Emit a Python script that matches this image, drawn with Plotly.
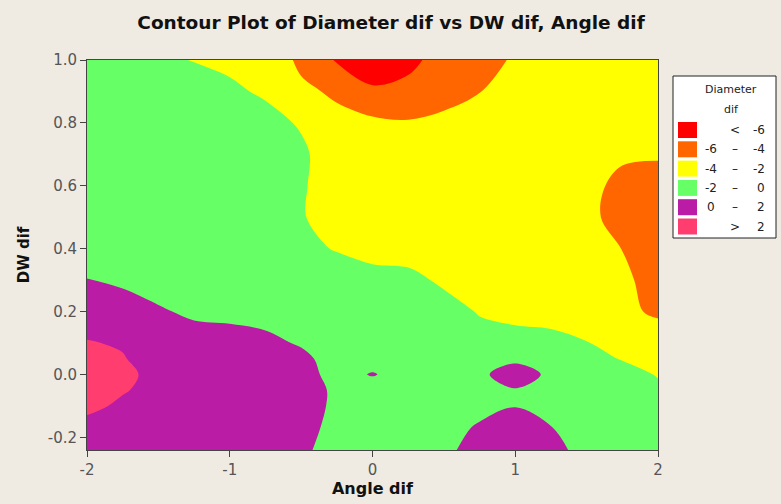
import plotly.graph_objects as go

# ---- data ----
angle_dif = [-2, -1.75, -1.5, -1.25, -1, -0.75, -0.5, -0.25, 0, 0.25, 0.5, 0.75, 1, 1.25, 1.5, 1.75, 2]
dw_dif = [-0.24, -0.17, -0.10, -0.05, 0.0, 0.05, 0.1, 0.2, 0.3, 0.4, 0.5, 0.6, 0.7, 0.8, 0.9, 1.0]

# Diameter dif, one list per Angle dif column (values along DW dif, bottom to top)
diam_cols = [
    [1.3, 1.73, 2.2, 2.45, 2.6, 2.45, 2.08, 1.3, 0.05, -0.9, -1.3, -1.4, -1.45, -1.5, -1.5, -1.5],
    [1.3, 1.6, 1.86, 2.06, 2.2, 2.08, 1.88, 0.82, -0.3, -1.0, -1.35, -1.5, -1.55, -1.6, -1.6, -1.65],
    [1.3, 1.55, 1.7, 1.76, 1.75, 1.41, 1.0, 0.19, -0.7, -1.2, -1.45, -1.6, -1.65, -1.65, -1.6, -1.8],
    [1.3, 1.45, 1.55, 1.55, 1.5, 1.15, 0.75, -0.3, -1.0, -1.4, -1.6, -1.7, -1.7, -1.6, -1.5, -2.04],
    [1.3, 1.4, 1.45, 1.45, 1.3, 1.0, 0.55, -0.35, -0.9, -1.3, -1.5, -1.58, -1.6, -1.62, -1.71, -2.35],
    [1.05, 1.1, 1.1, 1.05, 0.9, 0.6, 0.3, -0.45, -0.9, -1.2, -1.35, -1.4, -1.4, -1.46, -2.23, -3.0],
    [0.3, 0.5, 0.6, 0.6, 0.5, 0.3, -0.12, -0.8, -1.3, -1.7, -1.9, -1.82, -1.684, -2.17, -3.71, -4.3],
    [-0.64, -0.43, -0.26, -0.23, -0.45, -0.53, -0.8, -1.0, -1.33, -2.075, -2.58, -2.82, -3.0, -3.6, -4.225, -6.185],
    [-0.8, -0.75, -0.7, -0.6, 0.08, -0.5, -0.9, -1.2, -1.74, -2.25, -2.6, -2.9, -3.2, -3.556, -5.775, -6.9],
    [-0.5, -0.5, -0.55, -0.5, -0.5, -0.8, -1.0, -1.4, -1.8, -2.3, -2.7, -3.0, -3.4, -3.826, -5.567, -6.4],
    [-0.3, -0.55, -0.7, -0.75, -0.8, -1.0, -1.2, -1.72, -2.12, -2.5, -2.75, -3.0, -3.3, -3.62, -4.6, -5.4],
    [0.533, 0.18, -0.45, -0.5, -0.29, -1.0, -1.72, -2.05, -2.3, -2.5, -2.7, -2.9, -3.1, -3.28, -4.03, -4.64],
    [0.9, 0.5, -0.03, -0.1, 0.733, -0.314, -1.5, -2.38, -2.7, -3.0, -3.2, -3.4, -3.5, -3.6, -3.6, -3.8],
    [0.4, 0.03, -0.4, -0.5, -0.29, -1.0, -1.6, -2.49, -2.8, -3.1, -3.3, -3.4, -3.4, -3.4, -3.4, -3.5],
    [-0.43, -0.35, -0.6, -0.9, -1.2, -1.7, -1.97, -2.40, -3.0, -3.5, -3.8, -3.78, -3.5, -3.4, -3.3, -3.2],
    [-1.1, -1.2, -1.3, -1.45, -1.63, -2.05, -2.3, -3.3, -3.7, -4.02, -4.3, -4.2, -3.89, -3.6, -3.5, -3.4],
    [-1.5, -1.6, -1.7, -1.83, -2.06, -2.15, -2.23, -4.5, -4.6, -4.8, -4.8, -4.5, -3.875, -3.7, -3.6, -3.5],
]

levels = [-6, -4, -2, 0, 2]
band_colors = ['#FF0000', '#FF6600', '#FFFF00', '#66FF66', '#BA1CA6', '#FF3D6E']
legend_labels = [('', '<', '-6'), ('-6', '–', '-4'), ('-4', '–', '-2'),
                 ('-2', '–', '0'), ('0', '–', '2'), ('', '>', '2')]
x_ticks = [-2, -1, 0, 1, 2]
y_ticks = [-0.2, 0.0, 0.2, 0.4, 0.6, 0.8, 1.0]

# z as rows (DW dif) x columns (Angle dif)
z = [[diam_cols[i][j] for i in range(len(angle_dif))] for j in range(len(dw_dif))]

step = levels[1] - levels[0]
zmin = levels[0] - step
zmax = levels[-1] + step
bounds = [zmin] + levels + [zmax]
colorscale = []
for k, c in enumerate(band_colors):
    a = (bounds[k] - zmin) / (zmax - zmin)
    b = (bounds[k + 1] - zmin) / (zmax - zmin)
    colorscale.append([a, c])
    colorscale.append([b, c])

FONT = 'DejaVu Sans'
BG = '#EFEBE2'

fig = go.Figure()
fig.add_trace(go.Contour(
    x=angle_dif, y=dw_dif, z=z,
    zmin=zmin, zmax=zmax, zauto=False,
    colorscale=colorscale, showscale=False,
    contours=dict(start=levels[0], end=levels[-1], size=step, coloring='fill'),
    line=dict(width=0, smoothing=1.0),
    hoverinfo='skip',
))

# legend box (paper coords)
L, R, T, B = 87, 658, 60, 450
def px(xp):
    return (xp - L) / (R - L)
def py(yp):
    return (B - yp) / (B - T)

shapes = [dict(type='rect', xref='paper', yref='paper',
               x0=px(673), x1=px(776), y0=py(238), y1=py(76),
               fillcolor='white', line=dict(color='#222222', width=1))]
lf = dict(family=FONT, size=11, color='#222')
annotations = [
    dict(text='Diameter', x=px(731), y=py(90), xref='paper', yref='paper',
         showarrow=False, font=lf, xanchor='center', yanchor='middle'),
    dict(text='dif', x=px(731), y=py(109), xref='paper', yref='paper',
         showarrow=False, font=lf, xanchor='center', yanchor='middle'),
]
row0, dy = 130, 19.3
for k, c in enumerate(band_colors):
    yc = row0 + k * dy
    shapes.append(dict(type='rect', xref='paper', yref='paper',
                       x0=px(678), x1=px(697), y0=py(yc + 8), y1=py(yc - 8),
                       fillcolor=c, line=dict(width=0)))
    left, mid, right = legend_labels[k]
    f = dict(family=FONT, size=12, color='#222')
    if left:
        annotations.append(dict(text=left, x=px(711), y=py(yc), xref='paper', yref='paper',
                                showarrow=False, font=f, xanchor='center', yanchor='middle'))
    annotations.append(dict(text=mid, x=px(735), y=py(yc), xref='paper', yref='paper',
                            showarrow=False, font=f, xanchor='center', yanchor='middle'))
    annotations.append(dict(text=right, x=px(767), y=py(yc), xref='paper', yref='paper',
                            showarrow=False, font=f, xanchor='right', yanchor='middle'))

fig.update_layout(
    width=781, height=504,
    margin=dict(l=L, r=781 - R, t=T, b=504 - B, pad=0, autoexpand=False),
    paper_bgcolor=BG, plot_bgcolor=BG,
    title=dict(text='<b>Contour Plot of Diameter dif vs DW dif, Angle dif</b>',
               x=391 / 781, xref='container', xanchor='center', y=1 - 23 / 504, yref='container', yanchor='middle',
               font=dict(family=FONT, size=18.5, color='#111')),
    xaxis=dict(range=[-2, 2], tickvals=x_ticks, ticktext=[str(v) for v in x_ticks],
               ticks='outside', ticklen=6, tickcolor='#444', showgrid=False, zeroline=False,
               showline=True, linecolor='#444', mirror=True,
               tickfont=dict(family=FONT, size=15, color='#555'),
               title=dict(text='<b>Angle dif</b>', font=dict(family=FONT, size=16, color='#111'), standoff=4)),
    yaxis=dict(range=[-0.24, 1.0], tickvals=y_ticks, ticktext=[f'{v:.1f}' for v in y_ticks],
               ticks='outside', ticklen=6, tickcolor='#444', showgrid=False, zeroline=False,
               showline=True, linecolor='#444', mirror=True,
               tickfont=dict(family=FONT, size=15, color='#555'),
               title=dict(text='<b>DW dif</b>', font=dict(family=FONT, size=15, color='#111'), standoff=14)),
    shapes=shapes, annotations=annotations,
)

fig.write_html('out.html', config={'displayModeBar': False},
               post_script="document.body.style.margin='0';document.body.style.padding='0';")
